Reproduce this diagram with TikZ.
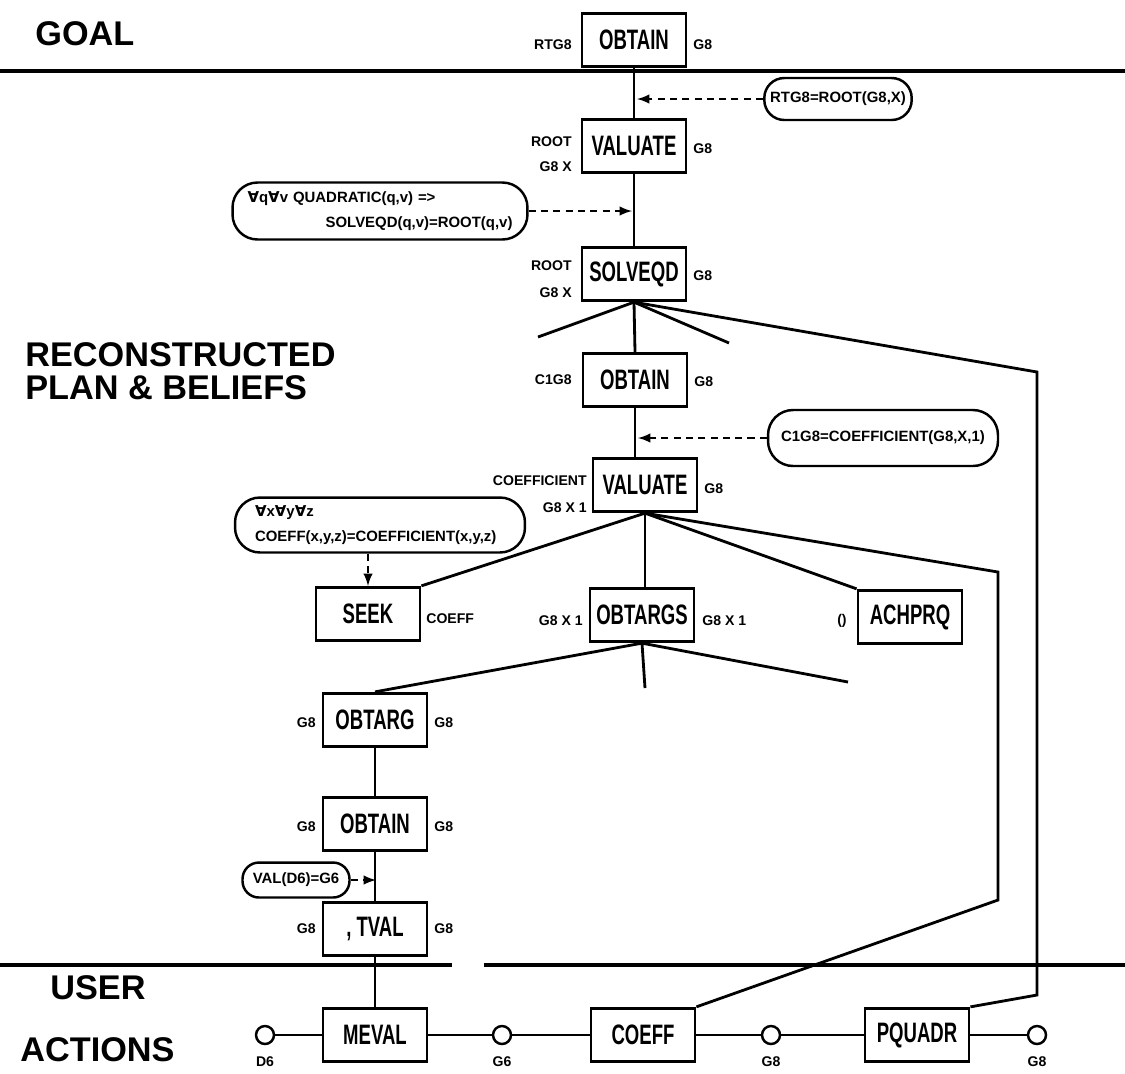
\documentclass[tikz,border=0pt]{standalone}
\usepackage{fontspec}
\setmainfont{Liberation Sans}
\newfontfamily\condfont[FakeStretch=0.66]{Liberation Sans}
\newfontfamily\symfont{DejaVu Sans}
\usetikzlibrary{shapes}
\newcommand{\qall}{{\symfont\bfseries ∀}}

\begin{document}
\begin{tikzpicture}[x=0.02cm, y=-0.02cm]
    \tikzstyle{ptitle} = [anchor=west, inner sep=0, font=\bfseries\fontsize{19.5}{18.5}\selectfont]
    \tikzstyle{pbox} = [draw, line width=1.6pt, minimum width=2.08cm, minimum height=1.07cm, inner sep=0, font=\condfont\bfseries\fontsize{16}{16}\selectfont]
    \tikzstyle{plbl} = [inner sep=0, font=\bfseries\fontsize{8}{8}\selectfont]
    \tikzstyle{pfact} = [draw, line width=1.4pt, rounded corners=0.5cm, inner ysep=0, font=\bfseries\fontsize{8.5}{14}\selectfont]
    \tikzstyle{pstop} = [draw, circle, line width=1.4pt, minimum size=0.36cm, inner sep=0, fill=white]
    \tikzstyle{plink} = [line width=1.6pt]
    \tikzstyle{phint} = [line width=1.4pt, dash pattern=on 4pt off 3pt, -latex]
    \tikzstyle{prule} = [line width=2.8pt]
    \useasboundingbox (0, 0) rectangle (1125, 1073);
    \node (tgoal) at (35, 34) [ptitle] {GOAL};
    \node (trec) at (25, 371) [ptitle, align=left] {RECONSTRUCTED\\PLAN \& BELIEFS};
    \node (tuser) at (50, 988) [ptitle] {USER};
    \node (tact) at (20, 1050) [ptitle] {ACTIONS};
    \draw[prule] (0, 71) -- (1125, 71);
    \draw[prule] (0, 965) -- (452, 965);
    \draw[prule] (484, 965) -- (1125, 965);
    \node (gobtain) at (634, 40) [pbox] {OBTAIN};
    \node (gobtainl) at (572, 45) [plbl, anchor=east] {RTG8};
    \node (gobtainr) at (693, 45) [plbl, anchor=west] {G8};
    \node (pval1) at (634, 146) [pbox] {VALUATE};
    \node (pval1a) at (572, 142) [plbl, anchor=east] {ROOT};
    \node (pval1b) at (572, 167) [plbl, anchor=east] {G8 X};
    \node (pval1r) at (693, 149) [plbl, anchor=west] {G8};
    \node (psolve) at (634, 274) [pbox] {SOLVEQD};
    \node (psolvea) at (572, 266) [plbl, anchor=east] {ROOT};
    \node (psolveb) at (572, 293) [plbl, anchor=east] {G8 X};
    \node (psolver) at (693, 276) [plbl, anchor=west] {G8};
    \node (pobtain) at (635, 380) [pbox] {OBTAIN};
    \node (pobtainl) at (572, 380) [plbl, anchor=east] {C1G8};
    \node (pobtainr) at (694, 382) [plbl, anchor=west] {G8};
    \node (pval2) at (645, 485) [pbox] {VALUATE};
    \node (pval2a) at (587, 481) [plbl, anchor=east] {COEFFICIENT};
    \node (pval2b) at (587, 508) [plbl, anchor=east] {G8 X 1};
    \node (pval2r) at (704, 489) [plbl, anchor=west] {G8};
    \node (pseek) at (368, 614) [pbox] {SEEK};
    \node (pseekr) at (426, 619) [plbl, anchor=west] {COEFF};
    \node (pobtargs) at (642, 615) [pbox] {OBTARGS};
    \node (pobtargsl) at (583, 621) [plbl, anchor=east] {G8 X 1};
    \node (pobtargsr) at (702, 621) [plbl, anchor=west] {G8 X 1};
    \node (pachprq) at (910, 617) [pbox] {ACHPRQ};
    \node (pachprql) at (847, 621) [plbl, anchor=east] {()};
    \node (pobtarg) at (375, 720) [pbox] {OBTARG};
    \node (pobtargl) at (316, 723) [plbl, anchor=east] {G8};
    \node (pobtargr) at (434, 723) [plbl, anchor=west] {G8};
    \node (pobtain2) at (375, 824) [pbox] {OBTAIN};
    \node (pobtain2l) at (316, 827) [plbl, anchor=east] {G8};
    \node (pobtain2r) at (434, 827) [plbl, anchor=west] {G8};
    \node (ptval) at (375, 929) [pbox] {, TVAL};
    \node (ptvall) at (316, 929) [plbl, anchor=east] {G8};
    \node (ptvalr) at (434, 929) [plbl, anchor=west] {G8};
    \node (umeval) at (375, 1035) [pbox] {MEVAL};
    \node (ucoeff) at (643, 1035) [pbox] {COEFF};
    \node (upquadr) at (917, 1035) [pbox] {PQUADR};
    \foreach \cx/\cl/\cn in {265/D6/ua, 502/G6/ub, 771/G8/uc, 1037/G8/ud}
    {
      \node (\cn) at (\cx, 1035) [pstop] {};
      \node (\cn l) at (\cx, 1062) [plbl] {\cl};
    }
    \node (froot) at (838, 99) [pfact, minimum width=2.8cm, minimum height=0.84cm, rounded corners=0.4cm] {RTG8=ROOT(G8,X)};
    \node (fquad) at (380, 211) [pfact, minimum width=5.9cm, minimum height=1.14cm, text width=5.3cm, inner xsep=0.3cm, align=left] {\qall q\qall v QUADRATIC(q,v) =>\\ \hspace*{\fill}SOLVEQD(q,v)=ROOT(q,v)};
    \node (fcoef) at (883, 438) [pfact, minimum width=4.6cm, minimum height=1.12cm] {C1G8=COEFFICIENT(G8,X,1)};
    \node (fall) at (380, 525) [pfact, minimum width=5.8cm, minimum height=1.1cm, text width=5.0cm, inner xsep=0.4cm, align=left] {\qall x\qall y\qall z\\ COEFF(x,y,z)=COEFFICIENT(x,y,z)};
    \node (fval) at (296, 880) [pfact, minimum width=2.14cm, minimum height=0.7cm, rounded corners=0.33cm] {VAL(D6)=G6};
    \coordinate (ha) at (637, 99);
    \coordinate (hb) at (632, 211);
    \coordinate (hc) at (638, 438);
    \coordinate (hd) at (376, 880);
    \coordinate (sa) at (538, 337);
    \coordinate (sb) at (729, 343);
    \coordinate (sc) at (645, 688);
    \coordinate (sd) at (848, 682);
    \coordinate (ka) at (1037, 372);
    \coordinate (kb) at (1037, 995);
    \coordinate (kc) at (998, 572);
    \coordinate (kd) at (998, 900);
    \draw[plink] (gobtain.south) -- (pval1.north);
    \draw[plink] (pval1.south) -- (psolve.north);
    \draw[plink] (psolve.south) -- (pobtain.north);
    \draw[plink] (psolve.south) -- (sa);
    \draw[plink] (psolve.south) -- (sb);
    \draw[plink] (psolve.south) -- (ka) -- (kb) -- (upquadr.north east);
    \draw[plink] (pobtain.south) -- (pobtain.south |- pval2.north);
    \draw[plink] (pval2.south) -- (pseek.north east);
    \draw[plink] (pval2.south) -- (pval2.south |- pobtargs.north);
    \draw[plink] (pval2.south) -- (pachprq.north west);
    \draw[plink] (pval2.south) -- (kc) -- (kd) -- (ucoeff.north east);
    \draw[plink] (pobtargs.south) -- (pobtarg.north);
    \draw[plink] (pobtargs.south) -- (sc);
    \draw[plink] (pobtargs.south) -- (sd);
    \draw[plink] (pobtarg.south) -- (pobtain2.north);
    \draw[plink] (pobtain2.south) -- (ptval.north);
    \draw[plink] (ptval.south) -- (umeval.north);
    \draw[plink] (ua) -- (umeval.west);
    \draw[plink] (umeval.east) -- (ub);
    \draw[plink] (ub) -- (ucoeff.west);
    \draw[plink] (ucoeff.east) -- (uc);
    \draw[plink] (uc) -- (upquadr.west);
    \draw[plink] (upquadr.east) -- (ud);
    \draw[phint] (froot.west) -- (ha);
    \draw[phint] (fquad.east) -- (hb);
    \draw[phint] (fcoef.west) -- (hc);
    \draw[phint] (pseek.north |- fall.south) -- (pseek.north);
    \draw[phint] (fval.east) -- (hd);
\end{tikzpicture}
\end{document}
